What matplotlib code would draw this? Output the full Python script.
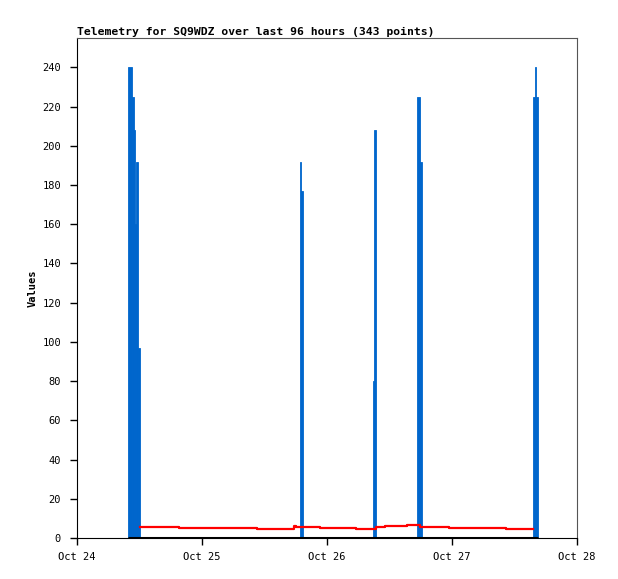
import matplotlib
matplotlib.use("Agg")
import matplotlib.pyplot as plt

# hours since Oct 24 00:00
blue_start = [9.79, 10.56, 10.94, 11.14, 11.33, 11.71,
              42.82, 43.01,
              56.83, 57.02,
              65.28, 65.86,
              87.55, 87.94, 88.13]
blue_end = [10.56, 10.94, 11.14, 11.33, 11.71, 12.10,
            43.01, 43.39,
            57.02, 57.41,
            65.86, 66.24,
            87.94, 88.13, 88.51]
blue_vals = [240, 225, 208, 160, 192, 97,
             192, 177,
             80, 208,
             225, 192,
             225, 240, 225]

red_t = [12.10, 19.58, 34.56, 41.66, 42.05, 46.66, 53.57, 57.41,
         59.14, 63.36, 65.86, 71.42, 82.37, 87.55]
red_v = [5.8, 5.3, 4.75, 6.1, 5.8, 5.2, 4.7, 5.8,
         6.3, 6.8, 5.8, 5.2, 4.75, 4.75]

black_t = [9.79, 88.51]
black_v = [0, 0]

xticks = [0, 24, 48, 72, 96]
xtick_labels = ["Oct 24", "Oct 25", "Oct 26", "Oct 27", "Oct 28"]
yticks = list(range(0, 241, 20))

mono = "DejaVu Sans Mono"

fig = plt.figure(figsize=(6.18, 5.79), dpi=100)
ax = fig.add_axes([77/618, 1 - 538/579, 500/618, 500/579])

widths = [e - s for s, e in zip(blue_start, blue_end)]
ax.bar(blue_start, blue_vals, width=widths, align="edge",
       color="#0066cc", edgecolor="#0066cc", linewidth=0.6, zorder=2)
ax.step(red_t, red_v, where="post", color="#ff0000", lw=1.6, zorder=3)
ax.plot(black_t, black_v, color="black", lw=2.2, zorder=4, solid_capstyle="butt")

ax.set_xlim(0, 96)
ax.set_ylim(0, 255)
ax.set_xticks(xticks)
ax.set_xticklabels(xtick_labels, family=mono, fontsize=7.5)
ax.set_yticks(yticks)
ax.set_yticklabels([str(v) for v in yticks], family=mono, fontsize=7.5)
ax.tick_params(axis="both", direction="out", length=5, width=1, color="black")
ax.tick_params(axis="x", pad=5)
ax.tick_params(axis="y", pad=6.5)

for side in ["left", "bottom"]:
    ax.spines[side].set_color("black")
for side in ["top", "right"]:
    ax.spines[side].set_color("#555555")

ax.set_ylabel("Values", family=mono, fontsize=7.5, fontweight="bold", labelpad=3)
ax.set_title("Telemetry for SQ9WDZ over last 96 hours (343 points)",
             family=mono, fontsize=8.2, fontweight="bold", loc="left", pad=2)

fig.savefig("out.png", dpi=100)
